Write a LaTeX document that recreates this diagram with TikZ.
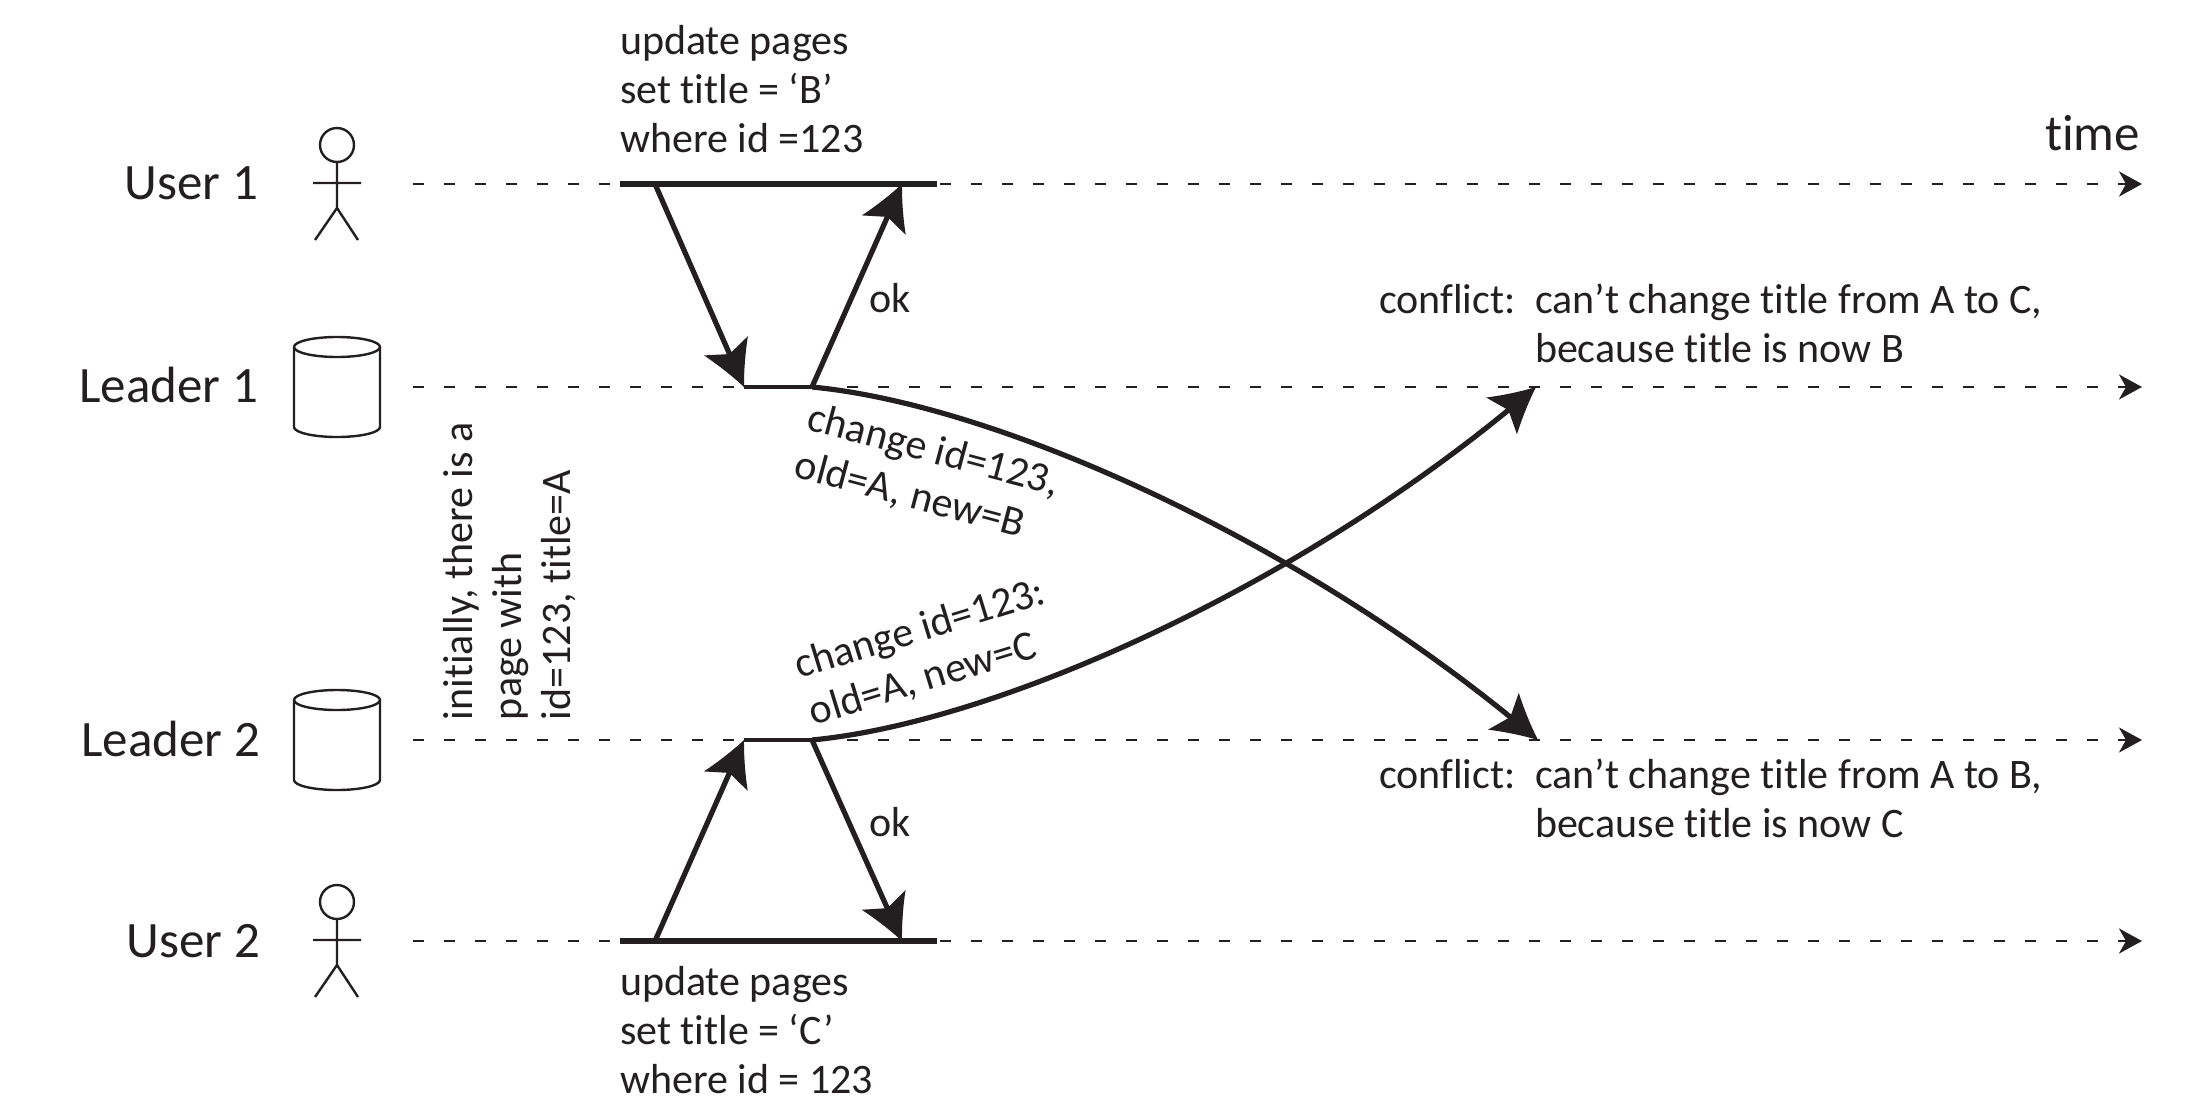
\documentclass[tikz,border=0pt]{standalone}
\usepackage{fontspec}
\setmainfont{Carlito}[Ligatures=NoCommon]
\usetikzlibrary{arrows.meta}
\definecolor{ink}{HTML}{231F20}
\pgfarrowsdeclare{ctip}{ctip}{\pgfarrowsleftextend{-12.5pt}\pgfarrowsrightextend{10pt}}{%
  \pgfsetdash{}{0pt}%
  \pgfpathmoveto{\pgfpoint{10pt}{0pt}}%
  \pgfpathcurveto{\pgfpoint{3pt}{3pt}}{\pgfpoint{-5pt}{7.2pt}}{\pgfpoint{-12.5pt}{12pt}}%
  \pgfpathlineto{\pgfpoint{-8pt}{0pt}}%
  \pgfpathlineto{\pgfpoint{-12.5pt}{-12pt}}%
  \pgfpathcurveto{\pgfpoint{-5pt}{-7.2pt}}{\pgfpoint{3pt}{-3pt}}{\pgfpoint{10pt}{0pt}}%
  \pgfpathclose
  \pgfusepathqfill}
\tikzset{
  every node/.style={inner sep=0pt,outer sep=0pt,text=ink},
  lab/.style={font=\fontsize{25.5}{30}\selectfont,anchor=base east},
  txt/.style={font=\fontsize{21}{24.5}\selectfont,align=left},
  lifeline/.style={draw=ink,line width=1.3pt,dash pattern=on 5.3pt off 10.2pt,-{Stealth[length=11.5pt,width=12.5pt,inset=3.5pt]}},
  bar/.style={draw=ink,line width=2.9pt},
  lbar/.style={draw=ink,line width=2.2pt},
  msg/.style={draw=ink,line width=2.6pt,-ctip},
  outl/.style={draw=ink,line width=1.2pt},
}
\newcommand{\stick}[1]{%
  \begin{scope}[yshift=#1]
    \draw[outl] (337,145) ellipse [x radius=17,y radius=17];
    \draw[outl] (337,162) -- (337,208) (313,183) -- (361,183) (315,240) -- (337,208) -- (358,240);
  \end{scope}}
\newcommand{\cyl}[1]{%
  \begin{scope}[yshift=#1]
    \draw[outl] (294,347) arc [start angle=180,end angle=-180,x radius=43,y radius=10];
    \draw[outl] (294,347) -- (294,427) arc [start angle=180,end angle=0,x radius=43,y radius=10] -- (380,347);
  \end{scope}}
\begin{document}
\begin{tikzpicture}[x=0.5pt,y=-0.5pt]
\useasboundingbox (0,0) rectangle (2210,1108);
% lifelines
\foreach \n/\y in {a/184,b/387,c/740,d/941}{
  \coordinate (\n0) at (413,\y);
  \coordinate (\n1) at (2142,\y);
  \draw[lifeline] (\n0) -- (\n1);
}
\coordinate (u1l) at (620,184); \coordinate (u1r) at (937,184);
\coordinate (u1f) at (655,184); \coordinate (u1t) at (902,184);
\coordinate (l1l) at (744,387); \coordinate (l1r) at (812,387);
\coordinate (l1e) at (1536,387);
\coordinate (l2l) at (744,740); \coordinate (l2r) at (812,740);
\coordinate (l2e) at (1538,740);
\coordinate (u2l) at (620,941); \coordinate (u2r) at (937,941);
\coordinate (u2f) at (655,941); \coordinate (u2t) at (902,941);
\draw[bar] (u1l) -- (u1r);
\draw[bar] (u2l) -- (u2r);
\draw[lbar] (l1l) -- (l1r);
\draw[lbar] (l2l) -- (l2r);
\draw[msg] (u1f) -- (l1l);
\draw[msg] (l1r) -- (u1t);
\draw[msg] (u2f) -- (l2l);
\draw[msg] (l2r) -- (u2t);
\draw[msg] (l1r) .. controls (1000,405) and (1300,542) .. (l2e);
\draw[msg] (l2r) .. controls (1000,722) and (1300,585) .. (l1e);
% actors
\stick{0}
\stick{-378.5pt}
\cyl{0}
\cyl{-176.5pt}
% labels
\node[lab] (user1) at (258,199) {User 1};
\node[lab] (leader1) at (258,402) {Leader 1};
\node[lab] (leader2) at (260,756) {Leader 2};
\node[lab] (user2) at (260,957) {User 2};
\node[lab] (time) at (2140,150) {time};
\node[txt,anchor=north west] (q1) at (620,25) {update pages\\set title = ‘B’\\where id =123};
\node[txt,anchor=north west] (q2) at (620,966) {update pages\\set title = ‘C’\\where id = 123};
\node[txt,anchor=base] (ok1) at (890,312) {ok};
\node[txt,anchor=base] (ok2) at (890,836) {ok};
\node[txt,anchor=north west] (c1k) at (1379,284) {conflict:};
\node[txt,anchor=north west] (c1t) at (1535,284) {can’t change title from A to C,\\because title is now B};
\node[txt,anchor=north west] (c2k) at (1379,759) {conflict:};
\node[txt,anchor=north west] (c2t) at (1535,759) {can’t change title from A to B,\\because title is now C};
\node[txt,rotate=90,anchor=north west] (init) at (443,720) {initially, there is a\\page with\\id=123, title=A};
\node[txt,rotate=-15,anchor=north west] (ch1) at (813,401) {change id=123,\\old=A, new=B};
\node[txt,rotate=17,anchor=north west] (ch2) at (791,651) {change id=123:\\old=A, new=C};
\end{tikzpicture}
\end{document}
